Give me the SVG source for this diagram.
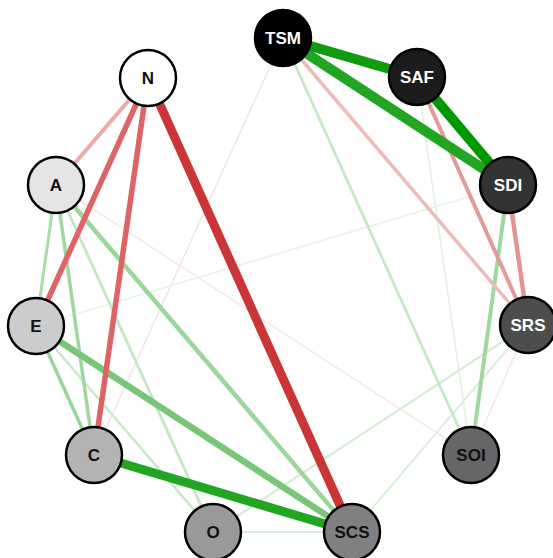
<svg xmlns="http://www.w3.org/2000/svg" width="553" height="558" viewBox="0 0 553 558">
  <style>
    .edge { fill: none; stroke-linecap: butt; }
    .node circle { stroke: #000; stroke-width: 2.5; }
    .node text { font-family: "Liberation Sans", Arial, sans-serif; font-size: 17px; font-weight: bold; text-anchor: middle; dominant-baseline: central; }
    .lt { fill: #fff; }
    .dk { fill: #111; }
  </style>
  <rect width="553" height="558" fill="#fff"/>

  <g id="connectors">
    <!-- faint associations -->
    <line class="edge" x1="283" y1="38" x2="94" y2="455" stroke="#f6e4e4" stroke-width="1.5"/>
    <line class="edge" x1="56" y1="185" x2="471" y2="455" stroke="#f6e6e6" stroke-width="1.5"/>
    <line class="edge" x1="508" y1="185" x2="36" y2="326" stroke="#e6f4e6" stroke-width="1.8"/>
    <line class="edge" x1="417" y1="77" x2="471" y2="455" stroke="#e4f3e4" stroke-width="1.8"/>
    <line class="edge" x1="528" y1="325" x2="471" y2="455" stroke="#f6e6ea" stroke-width="1.5"/>
    <line class="edge" x1="213" y1="532" x2="352" y2="532" stroke="#d8efd8" stroke-width="2"/>
    <line class="edge" x1="213" y1="532" x2="528" y2="325" stroke="#d4edd4" stroke-width="2.2"/>
    <line class="edge" x1="352" y1="532" x2="528" y2="325" stroke="#d8efd8" stroke-width="2"/>
    <line class="edge" x1="36" y1="326" x2="213" y2="532" stroke="#c8e9c8" stroke-width="2.5"/>
    <line class="edge" x1="56" y1="185" x2="213" y2="532" stroke="#c4e7c4" stroke-width="2.8"/>
    <line class="edge" x1="283" y1="38" x2="471" y2="455" stroke="#c6e8c6" stroke-width="2.8"/>

    <!-- moderate associations -->
    <line class="edge" x1="56" y1="185" x2="36" y2="326" stroke="#a9dca9" stroke-width="3"/>
    <line class="edge" x1="56" y1="185" x2="94" y2="455" stroke="#9fd89f" stroke-width="3.5"/>
    <line class="edge" x1="36" y1="326" x2="94" y2="455" stroke="#9ad59a" stroke-width="3.5"/>
    <line class="edge" x1="56" y1="185" x2="352" y2="532" stroke="#9bd69b" stroke-width="4.5"/>
    <line class="edge" x1="36" y1="326" x2="352" y2="532" stroke="#77c777" stroke-width="6.5"/>
    <line class="edge" x1="508" y1="185" x2="471" y2="455" stroke="#9fd89f" stroke-width="4"/>
    <line class="edge" x1="283" y1="38" x2="528" y2="325" stroke="#eebbbb" stroke-width="3.5"/>
    <line class="edge" x1="417" y1="77" x2="528" y2="325" stroke="#e29a9a" stroke-width="4"/>
    <line class="edge" x1="508" y1="185" x2="528" y2="325" stroke="#e49494" stroke-width="4.5"/>
    <line class="edge" x1="148" y1="78" x2="56" y2="185" stroke="#ebaaaa" stroke-width="4"/>
    <line class="edge" x1="148" y1="78" x2="36" y2="326" stroke="#de6565" stroke-width="5.5"/>
    <line class="edge" x1="148" y1="78" x2="94" y2="455" stroke="#dc6464" stroke-width="5.5"/>

    <!-- strong associations -->
    <line class="edge" x1="148" y1="78" x2="352" y2="532" stroke="#cc3535" stroke-width="9"/>
    <line class="edge" x1="94" y1="455" x2="352" y2="532" stroke="#22a622" stroke-width="9"/>
    <line class="edge" x1="283" y1="38" x2="508" y2="185" stroke="#22a622" stroke-width="10"/>
    <line class="edge" x1="283" y1="38" x2="417" y2="77" stroke="#119b11" stroke-width="10"/>
    <line class="edge" x1="417" y1="77" x2="508" y2="185" stroke="#009900" stroke-width="10"/>
  </g>

  <g id="node-TSM" class="node"><circle cx="283" cy="38" r="28" fill="#000"/><text class="lt" x="283" y="38">TSM</text></g>
  <g id="node-SAF" class="node"><circle cx="417" cy="77" r="28" fill="#1c1c1c"/><text class="lt" x="417" y="77">SAF</text></g>
  <g id="node-SDI" class="node"><circle cx="508" cy="185" r="28" fill="#333"/><text class="lt" x="508" y="185">SDI</text></g>
  <g id="node-SRS" class="node"><circle cx="528" cy="325" r="28" fill="#4d4d4d"/><text class="lt" x="528" y="325">SRS</text></g>
  <g id="node-SOI" class="node"><circle cx="471" cy="455" r="28" fill="#666"/><text class="dk" x="471" y="455">SOI</text></g>
  <g id="node-SCS" class="node"><circle cx="352" cy="532" r="28" fill="#808080"/><text class="dk" x="352" y="532">SCS</text></g>
  <g id="node-O" class="node"><circle cx="213" cy="532" r="28" fill="#999"/><text class="dk" x="213" y="532">O</text></g>
  <g id="node-C" class="node"><circle cx="94" cy="455" r="28" fill="#b3b3b3"/><text class="dk" x="94" y="455">C</text></g>
  <g id="node-E" class="node"><circle cx="36" cy="326" r="28" fill="#ccc"/><text class="dk" x="36" y="326">E</text></g>
  <g id="node-A" class="node"><circle cx="56" cy="185" r="28" fill="#e5e5e5"/><text class="dk" x="56" y="185">A</text></g>
  <g id="node-N" class="node"><circle cx="148" cy="78" r="28" fill="#fff"/><text class="dk" x="148" y="78">N</text></g>
</svg>
